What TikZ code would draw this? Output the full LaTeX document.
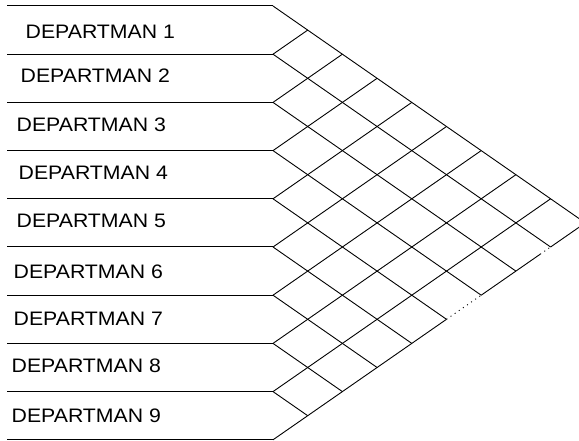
\documentclass[tikz,border=0pt]{standalone}
\usepackage{fontspec}
\setmainfont{Liberation Sans}
\newcommand\deplabel[1]{\scalebox{1.09}[1]{#1}}
\begin{document}
\begin{tikzpicture}[x=1pt,y=-1pt,
  rule/.style={line width=1pt,black},
  gridline/.style={line width=0.9pt,black},
  dotline/.style={line width=0.9pt,black,dash pattern=on 1pt off 4pt},
  lab/.style={anchor=base west,inner sep=0pt,font=\fontsize{19.5}{20}\selectfont}]
\useasboundingbox (0,0) rectangle (579,441);
\clip (0,0) rectangle (579,441);
% row coordinates
\foreach \i in {0,...,9}{
  \coordinate (H\i) at (7,{6+48.2*\i});
  \coordinate (L\i) at (273,{6+48.2*\i});
  \coordinate (T\i) at ({273+34.7*\i},{6+24.1*\i});
  \coordinate (B\i) at ({273+34.7*\i},{439.8-24.1*\i});
}
\coordinate (P1) at ({273+34.7*7.7},{439.8-24.1*7.7});
% horizontal rules
\foreach \i in {0,...,9}{ \draw[rule] (H\i) -- (L\i); }
% down-right lines
\foreach \i in {0,...,8}{
  \pgfmathtruncatemacro\k{9-\i}
  \draw[gridline] (L\i) -- (B\k);
}
% up-right lines
\foreach \j in {1,...,8}{ \draw[gridline] (L\j) -- (T\j); }
% lower edge (partly faded in the reference)
\draw[gridline] (L9) -- (B5);
\draw[dotline] (B5) -- (B6);
\draw[gridline] (B6) -- (P1);
\draw[dotline] (P1) -- (B8);
\draw[gridline] (B8) -- (B9);
% labels
\node[lab] (d1) at (25.5,38.5) {\deplabel{DEPARTMAN 1}};
\node[lab] (d2) at (20.5,83) {\deplabel{DEPARTMAN 2}};
\node[lab] (d3) at (16.5,132) {\deplabel{DEPARTMAN 3}};
\node[lab] (d4) at (18.5,180) {\deplabel{DEPARTMAN 4}};
\node[lab] (d5) at (16.5,228) {\deplabel{DEPARTMAN 5}};
\node[lab] (d6) at (13.5,278) {\deplabel{DEPARTMAN 6}};
\node[lab] (d7) at (13.5,325) {\deplabel{DEPARTMAN 7}};
\node[lab] (d8) at (11.5,372) {\deplabel{DEPARTMAN 8}};
\node[lab] (d9) at (11.5,422) {\deplabel{DEPARTMAN 9}};
\end{tikzpicture}
\end{document}
